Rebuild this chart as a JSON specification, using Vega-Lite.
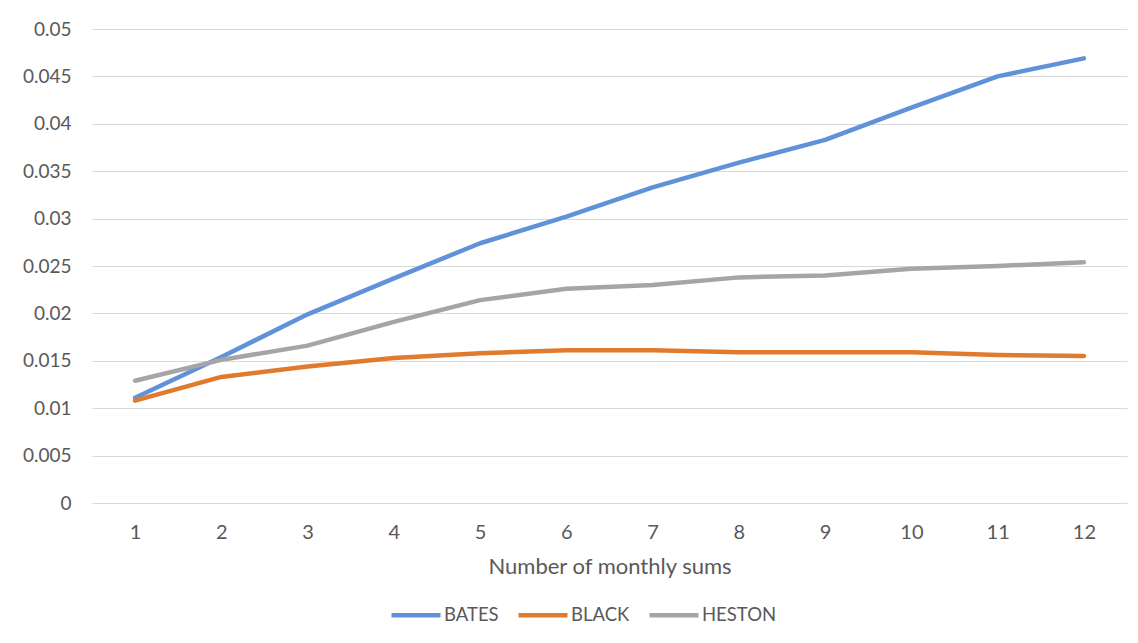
{
  "$schema": "https://vega.github.io/schema/vega-lite/v6.json",
  "autosize": "none",
  "width": 1035,
  "height": 474,
  "padding": {"left": 92, "top": 29, "right": 11, "bottom": 140},
  "background": "white",
  "config": {
    "font": "Lato",
    "view": {"stroke": null},
    "axis": {"labelColor": "#595959", "titleColor": "#595959", "labelFont": "Lato", "titleFont": "Lato"}
  },
  "data": {
    "values": [
      {"n": 1, "model": "BATES", "v": 0.0111},
      {"n": 2, "model": "BATES", "v": 0.0154},
      {"n": 3, "model": "BATES", "v": 0.0199},
      {"n": 4, "model": "BATES", "v": 0.0237},
      {"n": 5, "model": "BATES", "v": 0.0274},
      {"n": 6, "model": "BATES", "v": 0.0302},
      {"n": 7, "model": "BATES", "v": 0.0333},
      {"n": 8, "model": "BATES", "v": 0.0359},
      {"n": 9, "model": "BATES", "v": 0.0383},
      {"n": 10, "model": "BATES", "v": 0.0417},
      {"n": 11, "model": "BATES", "v": 0.045},
      {"n": 12, "model": "BATES", "v": 0.0469},
      {"n": 1, "model": "BLACK", "v": 0.0108},
      {"n": 2, "model": "BLACK", "v": 0.0133},
      {"n": 3, "model": "BLACK", "v": 0.0144},
      {"n": 4, "model": "BLACK", "v": 0.0153},
      {"n": 5, "model": "BLACK", "v": 0.0158},
      {"n": 6, "model": "BLACK", "v": 0.0161},
      {"n": 7, "model": "BLACK", "v": 0.0161},
      {"n": 8, "model": "BLACK", "v": 0.0159},
      {"n": 9, "model": "BLACK", "v": 0.0159},
      {"n": 10, "model": "BLACK", "v": 0.0159},
      {"n": 11, "model": "BLACK", "v": 0.0156},
      {"n": 12, "model": "BLACK", "v": 0.0155},
      {"n": 1, "model": "HESTON", "v": 0.0129},
      {"n": 2, "model": "HESTON", "v": 0.0151},
      {"n": 3, "model": "HESTON", "v": 0.0166},
      {"n": 4, "model": "HESTON", "v": 0.0191},
      {"n": 5, "model": "HESTON", "v": 0.0214},
      {"n": 6, "model": "HESTON", "v": 0.0226},
      {"n": 7, "model": "HESTON", "v": 0.023},
      {"n": 8, "model": "HESTON", "v": 0.0238},
      {"n": 9, "model": "HESTON", "v": 0.024},
      {"n": 10, "model": "HESTON", "v": 0.0247},
      {"n": 11, "model": "HESTON", "v": 0.025},
      {"n": 12, "model": "HESTON", "v": 0.0254}
    ]
  },
  "mark": {"type": "line", "strokeWidth": 4.5, "strokeCap": "round", "strokeJoin": "round"},
  "encoding": {
    "x": {
      "field": "n",
      "type": "ordinal",
      "scale": {"type": "point", "padding": 0.5},
      "axis": {
        "title": "Number of monthly sums",
        "titleFontSize": 22,
        "titleFontWeight": "normal",
        "titlePadding": 14,
        "labelFontSize": 20,
        "labelAngle": 0,
        "labelPadding": 19,
        "ticks": false,
        "domain": false,
        "grid": false
      }
    },
    "y": {
      "field": "v",
      "type": "quantitative",
      "scale": {"domain": [0, 0.05], "nice": false},
      "axis": {
        "title": null,
        "values": [0, 0.005, 0.01, 0.015, 0.02, 0.025, 0.03, 0.035, 0.04, 0.045, 0.05],
        "format": "~g",
        "labelFontSize": 19,
        "labelPadding": 21,
        "ticks": false,
        "domain": false,
        "grid": true,
        "gridColor": "#d9d9d9",
        "gridWidth": 1.2
      }
    },
    "color": {
      "field": "model",
      "type": "nominal",
      "scale": {"domain": ["BATES", "BLACK", "HESTON"], "range": ["#5f92d9", "#e07b2e", "#a5a5a5"]},
      "legend": {
        "title": null,
        "orient": "none",
        "direction": "horizontal",
        "legendX": 297,
        "legendY": 559,
        "symbolType": "stroke",
        "symbolSize": 2400,
        "symbolStrokeWidth": 4.5,
        "labelFontSize": 18.5,
        "labelColor": "#595959",
        "labelOffset": 1,
        "columnPadding": 10
      }
    }
  }
}
